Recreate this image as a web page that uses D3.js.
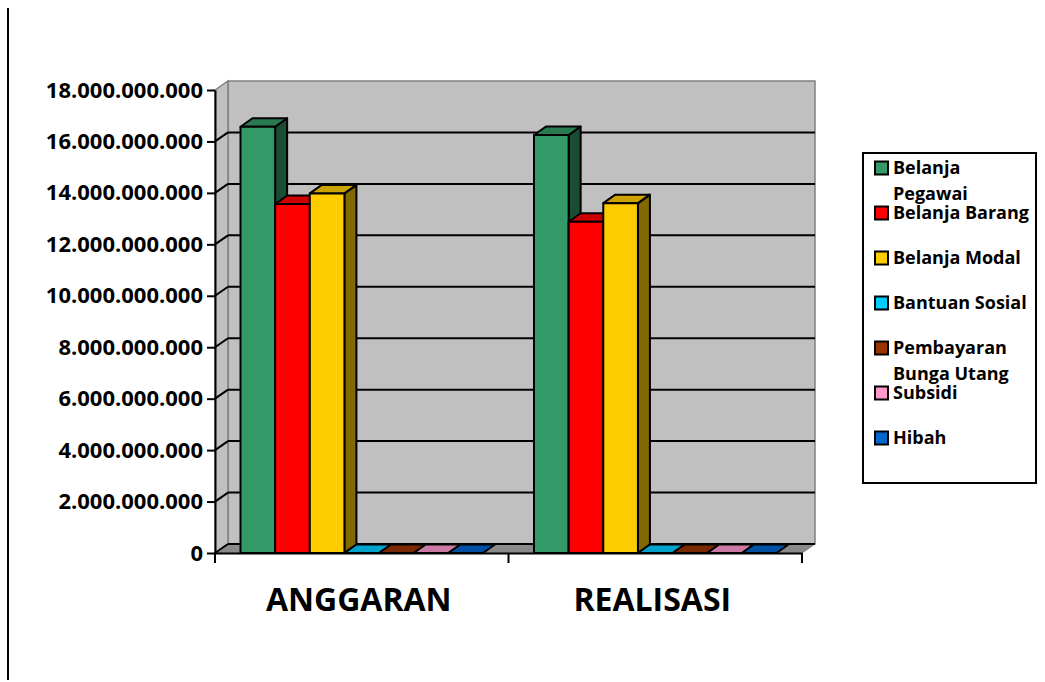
<!DOCTYPE html>
<html>
<head>
<meta charset="utf-8">
<script src="https://cdn.jsdelivr.net/npm/d3@7"></script>
<style>
  body { margin: 0; background: #fff; }
  svg text { font-family: "Open Sans", sans-serif; font-weight: bold; fill: #000; }
</style>
</head>
<body>
<div id="chart"></div>
<script>
/* 3D clustered column: Anggaran vs Realisasi belanja */

const categories = ["ANGGARAN", "REALISASI"];
const series = ["Belanja Pegawai", "Belanja Barang", "Belanja Modal", "Bantuan Sosial",
  "Pembayaran Bunga Utang", "Subsidi", "Hibah"];
const anggaran = [16570000000, 13570000000, 13980000000, 0, 0, 0, 0];
const realisasi = [16250000000, 12880000000, 13600000000, 0, 0, 0, 0];
const yTicks = [0, 2e9, 4e9, 6e9, 8e9, 10e9, 12e9, 14e9, 16e9, 18e9];
const colors = ["#339966", "#ff0000", "#ffcc00", "#00ccff", "#993300", "#ff99cc", "#0066cc"];

const width = 1045, height = 682;
const plot = { left: 215, right: 802, top: 90, bottom: 553 };
const depth = { dx: 13, dy: 9 };      // wall depth
const barDepth = { dx: 12, dy: 8.5 }; // column depth

const fmt = d3.formatLocale({ decimal: ",", thousands: ".", grouping: [3], currency: ["", ""] }).format(",");

const svg = d3.select("#chart").append("svg")
  .attr("width", width).attr("height", height);

// page edge line on the left
svg.append("line")
  .attr("x1", 8).attr("x2", 8).attr("y1", 8).attr("y2", 680)
  .attr("stroke", "#000").attr("stroke-width", 2);

let y = d3.scaleLinear().domain([0, 18e9]).range([plot.bottom, plot.top]);
let x = d3.scaleBand().domain(categories).range([plot.left, plot.right]);
let xInner = d3.scaleBand().domain(series).range([25.5, x.bandwidth() - 25.5]);

const poly = (pts) => "M" + pts.map((p) => p.join(",")).join("L") + "Z";

// back wall
svg.append("path")
  .attr("d", poly([
    [plot.left + depth.dx, plot.top - depth.dy], [plot.right + depth.dx, plot.top - depth.dy],
    [plot.right + depth.dx, plot.bottom - depth.dy], [plot.left + depth.dx, plot.bottom - depth.dy]]))
  .attr("fill", "#c0c0c0").attr("stroke", "#808080").attr("stroke-width", 1.5);

// side wall
svg.append("path")
  .attr("d", poly([
    [plot.left, plot.top], [plot.left + depth.dx, plot.top - depth.dy],
    [plot.left + depth.dx, plot.bottom - depth.dy], [plot.left, plot.bottom]]))
  .attr("fill", "#c0c0c0").attr("stroke", "#808080").attr("stroke-width", 1.5);

// floor
svg.append("path")
  .attr("d", poly([
    [plot.left, plot.bottom], [plot.left + depth.dx, plot.bottom - depth.dy],
    [plot.right + depth.dx, plot.bottom - depth.dy], [plot.right, plot.bottom]]))
  .attr("fill", "#8a8a8a").attr("stroke", "#808080").attr("stroke-width", 1);

// gridlines on back wall and side wall
yTicks.forEach((t) => {
  const yy = y(t);
  if (t !== 18e9) {
    svg.append("line")
      .attr("x1", plot.left + depth.dx).attr("x2", plot.right + depth.dx)
      .attr("y1", yy - depth.dy).attr("y2", yy - depth.dy)
      .attr("stroke", "#000").attr("stroke-width", 2);
    svg.append("line")
      .attr("x1", plot.left).attr("x2", plot.left + depth.dx)
      .attr("y1", yy).attr("y2", yy - depth.dy)
      .attr("stroke", "#000").attr("stroke-width", 2);
  }
});

// y axis
svg.append("g")
  .attr("transform", `translate(${plot.left},0)`)
  .call(d3.axisLeft(y).tickValues(yTicks).tickFormat(fmt).tickSize(8).tickPadding(4).tickSizeOuter(0))
  .call((g) => g.select(".domain").attr("stroke-width", 2))
  .call((g) => g.selectAll(".tick line").attr("stroke-width", 2))
  .call((g) => g.selectAll("text").attr("font-size", 22).attr("font-family", null));

// bars
const rows = [anggaran, realisasi];
categories.forEach((cat, ci) => {
  const vals = rows[ci];
  series.forEach((s, si) => {
    const x0 = x(cat) + xInner(s), w = xInner.bandwidth();
    const yb = y(0), yt = y(vals[si]);
    const c = d3.color(colors[si]);
    const top = c.darker(0.63), side = c.darker(1.9);
    const g = svg.append("g").attr("stroke", "#000").attr("stroke-width", 2).attr("stroke-linejoin", "round");
    if (vals[si] > 0) {
      g.append("path")
        .attr("d", poly([[x0 + w, yt], [x0 + w + barDepth.dx, yt - barDepth.dy],
          [x0 + w + barDepth.dx, yb - barDepth.dy], [x0 + w, yb]]))
        .attr("fill", side);
    }
    g.append("path")
      .attr("d", poly([[x0, yt], [x0 + barDepth.dx, yt - barDepth.dy],
        [x0 + w + barDepth.dx, yt - barDepth.dy], [x0 + w, yt]]))
      .attr("fill", top);
    if (vals[si] > 0) {
      g.append("rect")
        .attr("x", x0).attr("y", yt).attr("width", w).attr("height", yb - yt)
        .attr("fill", c);
    }
  });
});

// category axis
svg.append("g")
  .attr("transform", `translate(0,${plot.bottom})`)
  .call(d3.axisBottom(x).tickSize(0).tickPadding(0).tickSizeOuter(0))
  .call((g) => g.select(".domain").attr("stroke-width", 2))
  .call((g) => g.selectAll("text").remove());

// category ticks at band edges
[plot.left, ...categories.map((c) => x(c) + x.bandwidth())].forEach((xx) => {
  svg.append("line")
    .attr("x1", xx).attr("x2", xx).attr("y1", plot.bottom).attr("y2", plot.bottom + 10)
    .attr("stroke", "#000").attr("stroke-width", 2);
});

svg.append("g").selectAll("text")
  .data(categories)
  .join("text")
  .attr("x", (d) => x(d) + x.bandwidth() / 2 - 3)
  .attr("y", 611)
  .attr("text-anchor", "middle")
  .attr("font-size", 32)
  .text((d) => d);

// legend
const legend = svg.append("g");
legend.append("rect")
  .attr("x", 863).attr("y", 153).attr("width", 173).attr("height", 330)
  .attr("fill", "#fff").attr("stroke", "#000").attr("stroke-width", 2);

series.forEach((s, i) => {
  const cy = 168 + i * 45;
  legend.append("rect")
    .attr("x", 875).attr("y", cy - 6.5).attr("width", 13).attr("height", 13)
    .attr("fill", colors[i]).attr("stroke", "#000").attr("stroke-width", 2);
  const t = legend.append("text")
    .attr("x", 893).attr("y", cy)
    .attr("font-size", 18);
  // word wrap inside the legend box
  const words = s.split(" ");
  let line = [];
  let tspan = t.append("tspan").attr("x", 893).attr("dy", "0.35em");
  words.forEach((wd) => {
    line.push(wd);
    tspan.text(line.join(" "));
    if (tspan.node().getComputedTextLength() > 138 && line.length > 1) {
      line.pop();
      tspan.text(line.join(" "));
      line = [wd];
      tspan = t.append("tspan").attr("x", 893).attr("dy", "1.4em").text(wd);
    }
  });
});
</script>
</body>
</html>
